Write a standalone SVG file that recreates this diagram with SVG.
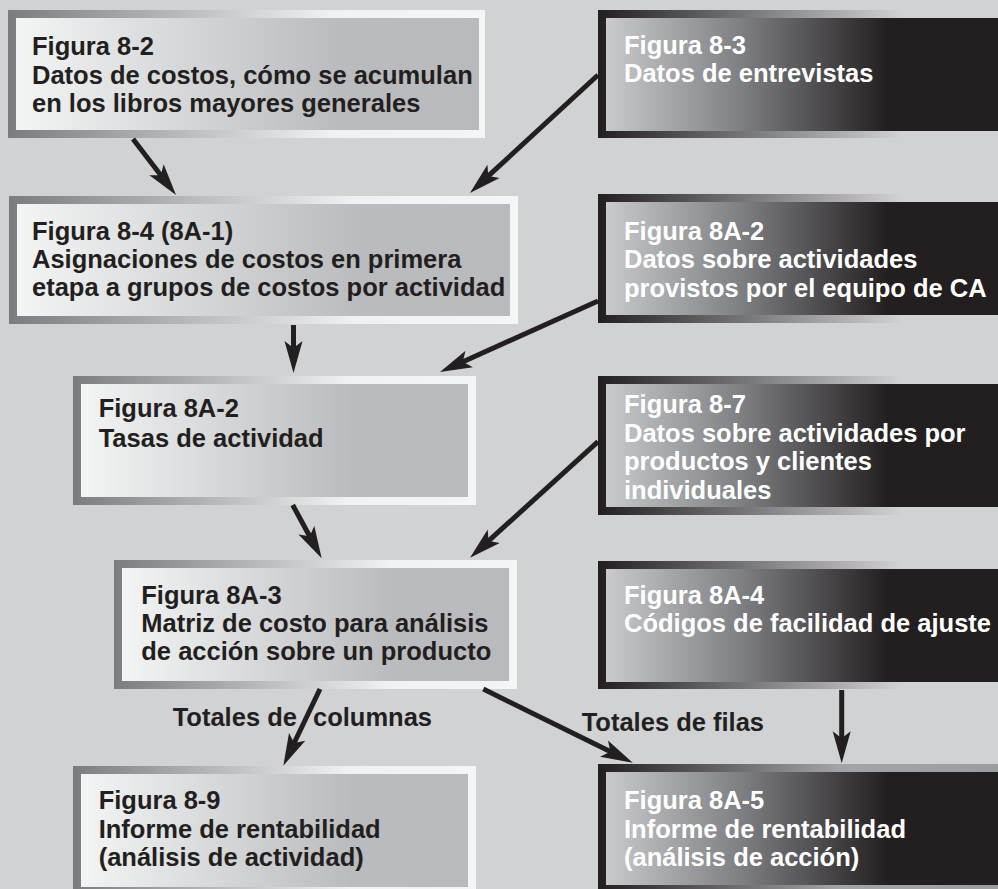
<svg xmlns="http://www.w3.org/2000/svg" width="998" height="889" viewBox="0 0 998 889">
<defs>
<linearGradient id="lb" x1="0" y1="0" x2="1" y2="0"><stop offset="0" stop-color="#7b7c7f"/><stop offset="0.68" stop-color="#f0f1f1"/><stop offset="1" stop-color="#f4f5f5"/></linearGradient>
<linearGradient id="li" x1="0" y1="0" x2="1" y2="0"><stop offset="0" stop-color="#f3f4f4"/><stop offset="0.7" stop-color="#babbbe"/><stop offset="1" stop-color="#b9babd"/></linearGradient>
<linearGradient id="db" x1="0" y1="0" x2="1" y2="0"><stop offset="0" stop-color="#231f20"/><stop offset="0.76" stop-color="#d1d2d4"/><stop offset="1" stop-color="#d1d2d4"/></linearGradient>
<linearGradient id="db2" x1="0" y1="0" x2="1" y2="0"><stop offset="0" stop-color="#231f20"/><stop offset="0.6" stop-color="#a3a4a7"/><stop offset="1" stop-color="#9c9da0"/></linearGradient>
<linearGradient id="di" x1="0" y1="0" x2="1" y2="0"><stop offset="0" stop-color="#c9cacc"/><stop offset="0.35" stop-color="#7d7e81"/><stop offset="0.72" stop-color="#231f20"/><stop offset="1" stop-color="#231f20"/></linearGradient>
<marker id="ah" markerUnits="userSpaceOnUse" viewBox="-32 -10 34 20" refX="-24" refY="0" markerWidth="34" markerHeight="20" orient="auto">
<path d="M0,0 L-32,-9 L-25,0 L-32,9 Z" fill="#231f20"/>
</marker>
<style>
text{font-family:"Liberation Sans",Arial,Helvetica,sans-serif;font-weight:bold;font-size:25.5px}
.lt{fill:#231f20}
.dt{fill:#ffffff}
.lbl{fill:#231f20}
.c{stroke:#231f20;stroke-width:5;fill:none;marker-end:url(#ah)}
</style>
</defs>
<rect x="0" y="0" width="998" height="889" fill="#d1d2d4"/>

<g id="n1"><rect x="8" y="10" width="477" height="128" fill="url(#lb)"/><rect x="16" y="18" width="463" height="112" fill="url(#li)"/>
<text class="lt" x="32" y="55">Figura 8-2<tspan x="32" y="83.5">Datos de costos, cómo se acumulan</tspan><tspan x="32" y="112">en los libros mayores generales</tspan></text></g>

<g id="n2"><rect x="598" y="10" width="400" height="128" fill="url(#db)"/><rect x="606" y="18" width="392" height="113" fill="url(#di)"/>
<text class="dt" x="624" y="53.5">Figura 8-3<tspan x="624" y="82">Datos de entrevistas</tspan></text></g>

<g id="n3"><rect x="9" y="196" width="509" height="128" fill="url(#lb)"/><rect x="17" y="204" width="493" height="112" fill="url(#li)"/>
<text class="lt" x="32" y="239.5">Figura 8-4 (8A-1)<tspan x="32" y="267.5">Asignaciones de costos en primera</tspan><tspan x="32" y="296">etapa a grupos de costos por actividad</tspan></text></g>

<g id="n4"><rect x="598" y="194" width="400" height="129" fill="url(#db)"/><rect x="606" y="202" width="392" height="113" fill="url(#di)"/>
<text class="dt" x="624" y="239.5">Figura 8A-2<tspan x="624" y="267.5">Datos sobre actividades</tspan><tspan x="624" y="296.5">provistos por el equipo de CA</tspan></text></g>

<g id="n5"><rect x="73" y="376" width="403" height="129" fill="url(#lb)"/><rect x="81" y="384" width="387" height="113" fill="url(#li)"/>
<text class="lt" x="98.7" y="417">Figura 8A-2<tspan x="98.7" y="446.5">Tasas de actividad</tspan></text></g>

<g id="n6"><rect x="598" y="376" width="400" height="139" fill="url(#db)"/><rect x="606" y="384" width="392" height="123" fill="url(#di)"/>
<text class="dt" x="624" y="412.5">Figura 8-7<tspan x="624" y="441.5">Datos sobre actividades por</tspan><tspan x="624" y="470">productos y clientes</tspan><tspan x="624" y="498.5">individuales</tspan></text></g>

<g id="n7"><rect x="114" y="560" width="403" height="129" fill="url(#lb)"/><rect x="122" y="568" width="387" height="113" fill="url(#li)"/>
<text class="lt" x="141.3" y="603.5">Figura 8A-3<tspan x="141.3" y="632">Matriz de costo para análisis</tspan><tspan x="141.3" y="660">de acción sobre un producto</tspan></text></g>

<g id="n8"><rect x="598" y="561" width="400" height="128" fill="url(#db)"/><rect x="606" y="569" width="392" height="113" fill="url(#di)"/>
<text class="dt" x="624" y="603.5">Figura 8A-4<tspan x="624" y="632">Códigos de facilidad de ajuste</tspan></text></g>

<g id="n9"><rect x="73" y="766" width="403" height="129" fill="url(#lb)"/><rect x="81" y="774" width="387" height="113" fill="url(#li)"/>
<text class="lt" x="98.7" y="808.5">Figura 8-9<tspan x="98.7" y="837.5">Informe de rentabilidad</tspan><tspan x="98.7" y="866">(análisis de actividad)</tspan></text></g>

<g id="n10"><rect x="598" y="764" width="400" height="129" fill="url(#db2)"/><rect x="606" y="772" width="392" height="113" fill="url(#di)"/>
<text class="dt" x="624" y="808.5">Figura 8A-5<tspan x="624" y="837.5">Informe de rentabilidad</tspan><tspan x="624" y="866">(análisis de acción)</tspan></text></g>

<g id="connectors">
<line class="c" x1="133" y1="139" x2="161.4" y2="176"/>
<line class="c" x1="598" y1="75" x2="487.6" y2="176.7"/>
<line class="c" x1="293.5" y1="325" x2="293.5" y2="349"/>
<line class="c" x1="598" y1="301" x2="461.9" y2="362.2"/>
<line class="c" x1="292.7" y1="505" x2="310.2" y2="537.2"/>
<line class="c" x1="598" y1="441.7" x2="487.8" y2="541.6"/>
<line class="c" x1="320" y1="689" x2="293.7" y2="744"/>
<line class="c" x1="483.3" y1="689" x2="611.2" y2="752.1"/>
<line class="c" x1="841.7" y1="690" x2="841.7" y2="739.3"/>
<text class="lbl" x="172.7" y="726">Totales de <tspan x="313">columnas</tspan></text>
<text class="lbl" x="581.7" y="730.7">Totales de filas</text>
</g>
</svg>
